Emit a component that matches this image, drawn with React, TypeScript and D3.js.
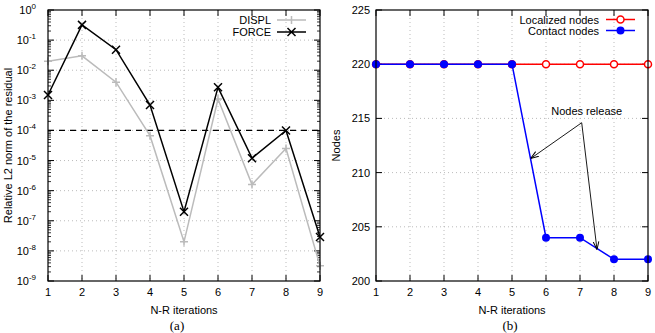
import React, { useEffect, useRef } from 'react';
import * as d3 from 'd3';

const iterations = [1, 2, 3, 4, 5, 6, 7, 8, 9];
const displ = [2e-2, 3e-2, 4e-3, 6.7e-5, 2e-8, 1.1e-3, 1.6e-6, 2.5e-5, 3.2e-9];
const force = [1.5e-3, 3.2e-1, 4.8e-2, 7e-4, 2e-7, 2.7e-3, 1.2e-5, 1e-4, 2.9e-8];
const tolerance = 1e-4;
const logExponents = [0, -1, -2, -3, -4, -5, -6, -7, -8, -9];

const localized = [220, 220, 220, 220, 220, 220, 220, 220, 220];
const contact = [220, 220, 220, 220, 220, 204, 204, 202, 202];
const nodeTicks = [200, 205, 210, 215, 220, 225];
const releaseLabel = { x: 7.05, y: 215.3, text: 'Nodes release' };
const releaseArrows = [[7.05, 214.6, 5.55, 211.3], [7.05, 214.6, 7.5, 202.9]];

const W = 655, H = 333;
const top = 10, bottom = 281;
const font = 'Liberation Sans, Arial, sans-serif';

export default function App() {
  const ref = useRef<SVGSVGElement>(null);

  useEffect(() => {
    const svg = d3.select(ref.current);
    svg.selectAll('*').remove();

    svg.append('defs').append('marker')
      .attr('id', 'arr').attr('viewBox', '0 0 10 10').attr('refX', 10).attr('refY', 5)
      .attr('markerWidth', 8).attr('markerHeight', 8).attr('orient', 'auto-start-reverse')
      .attr('markerUnits', 'userSpaceOnUse')
      .append('path').attr('d', 'M0,1.5 L10,5 L0,8.5').attr('fill', 'none').attr('stroke', '#000').attr('stroke-width', 1.2);

    // ---------- left panel ----------
    const xa = d3.scaleLinear().domain([1, 9]).range([48, 320]);
    const ya = d3.scaleLog().domain([1e-9, 1]).range([bottom, top]);
    const ga = svg.append('g');

    ga.selectAll('.gx').data(iterations.slice(1, -1)).join('line')
      .attr('x1', d => xa(d)).attr('x2', d => xa(d)).attr('y1', top).attr('y2', bottom)
      .attr('stroke', '#aaa').attr('stroke-width', 0.8).attr('stroke-dasharray', '1,3');
    ga.selectAll('.gy').data(logExponents.slice(1, -1)).join('line')
      .attr('x1', 48).attr('x2', 320).attr('y1', d => ya(Math.pow(10, d))).attr('y2', d => ya(Math.pow(10, d)))
      .attr('stroke', '#aaa').attr('stroke-width', 0.8).attr('stroke-dasharray', '1,3');

    // minor log ticks
    const minors: number[] = [];
    logExponents.slice(1).forEach(e => { for (let m = 2; m <= 9; m++) minors.push(m * Math.pow(10, e)); });
    ga.selectAll('.mn').data(minors).join('path')
      .attr('d', d => `M48,${ya(d)}h3M320,${ya(d)}h-3`).attr('stroke', '#000').attr('stroke-width', 0.8);
    ga.selectAll('.mj').data(logExponents).join('path')
      .attr('d', d => `M48,${ya(Math.pow(10, d))}h6M320,${ya(Math.pow(10, d))}h-6`).attr('stroke', '#000');
    ga.selectAll('.xt').data(iterations).join('path')
      .attr('d', d => `M${xa(d)},${bottom}v-6M${xa(d)},${top}v6`).attr('stroke', '#000');

    const yl = ga.selectAll('.yl').data(logExponents).join('text')
      .attr('x', 42).attr('y', d => ya(Math.pow(10, d)) + 4)
      .attr('text-anchor', 'end').attr('font-family', font).attr('font-size', 11);
    yl.append('tspan').attr('dx', -8).text('10');
    yl.append('tspan').attr('dy', -5).attr('font-size', 8).text(d => String(d));
    // right-align: re-place with anchor end on the whole text
    yl.attr('x', 44);

    ga.selectAll('.xl').data(iterations).join('text')
      .attr('x', d => xa(d)).attr('y', bottom + 15).attr('text-anchor', 'middle')
      .attr('font-family', font).attr('font-size', 11).text(d => d);

    ga.append('line').attr('x1', 48).attr('x2', 320).attr('y1', ya(tolerance)).attr('y2', ya(tolerance))
      .attr('stroke', '#000').attr('stroke-width', 1.2).attr('stroke-dasharray', '6,5');

    const lineA = (arr: number[]) => d3.line<number>().x((_, i) => xa(iterations[i])).y(d => ya(d))(arr);
    ga.append('path').attr('d', lineA(displ)).attr('fill', 'none').attr('stroke', '#bbb').attr('stroke-width', 1.5);
    ga.selectAll('.pd').data(displ).join('path')
      .attr('d', (d, i) => `M${xa(iterations[i]) - 4},${ya(d)}h8M${xa(iterations[i])},${ya(d) - 4}v8`)
      .attr('stroke', '#bbb').attr('stroke-width', 1.5);
    ga.append('path').attr('d', lineA(force)).attr('fill', 'none').attr('stroke', '#000').attr('stroke-width', 1.5);
    ga.selectAll('.pf').data(force).join('path')
      .attr('d', (d, i) => `M${xa(iterations[i]) - 4},${ya(d) - 4}l8,8M${xa(iterations[i]) - 4},${ya(d) + 4}l8,-8`)
      .attr('stroke', '#000').attr('stroke-width', 1.5);

    // legend
    ga.append('text').attr('x', 271).attr('y', 24).attr('text-anchor', 'end').attr('font-family', font).attr('font-size', 11).text('DISPL');
    ga.append('path').attr('d', 'M277,20h29M291.5,16v8M287.5,20h8').attr('stroke', '#bbb').attr('stroke-width', 1.5);
    ga.append('text').attr('x', 271).attr('y', 36).attr('text-anchor', 'end').attr('font-family', font).attr('font-size', 11).text('FORCE');
    ga.append('path').attr('d', 'M277,32h29M287.5,28l8,8M287.5,36l8,-8').attr('stroke', '#000').attr('stroke-width', 1.5);

    ga.append('rect').attr('x', 48).attr('y', top).attr('width', 272).attr('height', bottom - top)
      .attr('fill', 'none').attr('stroke', '#000').attr('stroke-width', 1.2);

    ga.append('text').attr('transform', `translate(12,${(top + bottom) / 2}) rotate(-90)`)
      .attr('text-anchor', 'middle').attr('font-family', font).attr('font-size', 11).text('Relative L2 norm of the residual');
    ga.append('text').attr('x', 184).attr('y', 314).attr('text-anchor', 'middle').attr('font-family', font).attr('font-size', 11).text('N-R iterations');
    ga.append('text').attr('x', 177).attr('y', 330).attr('text-anchor', 'middle').attr('font-family', 'Liberation Serif, Times New Roman, serif').attr('font-size', 13).text('(a)');

    // ---------- right panel ----------
    const xb = d3.scaleLinear().domain([1, 9]).range([376, 648]);
    const yb = d3.scaleLinear().domain([200, 225]).range([bottom, top]);
    const gb = svg.append('g');

    gb.selectAll('.gx').data(iterations.slice(1, -1)).join('line')
      .attr('x1', d => xb(d)).attr('x2', d => xb(d)).attr('y1', top).attr('y2', bottom)
      .attr('stroke', '#aaa').attr('stroke-width', 0.8).attr('stroke-dasharray', '1,3');
    gb.selectAll('.gy').data(nodeTicks.slice(1, -1)).join('line')
      .attr('x1', 376).attr('x2', 648).attr('y1', d => yb(d)).attr('y2', d => yb(d))
      .attr('stroke', '#aaa').attr('stroke-width', 0.8).attr('stroke-dasharray', '1,3');
    gb.selectAll('.mj').data(nodeTicks).join('path')
      .attr('d', d => `M376,${yb(d)}h6M648,${yb(d)}h-6`).attr('stroke', '#000');
    gb.selectAll('.xt').data(iterations).join('path')
      .attr('d', d => `M${xb(d)},${bottom}v-6M${xb(d)},${top}v6`).attr('stroke', '#000');

    gb.selectAll('.yl').data(nodeTicks).join('text')
      .attr('x', 370).attr('y', d => yb(d) + 4).attr('text-anchor', 'end')
      .attr('font-family', font).attr('font-size', 11).text(d => d);
    gb.selectAll('.xl').data(iterations).join('text')
      .attr('x', d => xb(d)).attr('y', bottom + 15).attr('text-anchor', 'middle')
      .attr('font-family', font).attr('font-size', 11).text(d => d);

    const lineB = (arr: number[]) => d3.line<number>().x((_, i) => xb(iterations[i])).y(d => yb(d))(arr);
    gb.append('path').attr('d', lineB(localized)).attr('fill', 'none').attr('stroke', '#f00').attr('stroke-width', 1.5);
    gb.selectAll('.pl').data(localized).join('circle')
      .attr('cx', (_, i) => xb(iterations[i])).attr('cy', d => yb(d)).attr('r', 3.5)
      .attr('fill', '#fff').attr('stroke', '#f00').attr('stroke-width', 1.5);
    gb.append('path').attr('d', lineB(contact)).attr('fill', 'none').attr('stroke', '#00f').attr('stroke-width', 1.5);
    gb.selectAll('.pc').data(contact).join('circle')
      .attr('cx', (_, i) => xb(iterations[i])).attr('cy', d => yb(d)).attr('r', 4)
      .attr('fill', '#00f');

    // annotation
    gb.append('text').attr('x', xb(releaseLabel.x) + 5).attr('y', yb(releaseLabel.y))
      .attr('text-anchor', 'middle').attr('font-family', font).attr('font-size', 11).text(releaseLabel.text);
    gb.selectAll('.ar').data(releaseArrows).join('line')
      .attr('x1', d => xb(d[0])).attr('y1', d => yb(d[1])).attr('x2', d => xb(d[2])).attr('y2', d => yb(d[3]))
      .attr('stroke', '#000').attr('stroke-width', 0.9).attr('marker-end', 'url(#arr)');

    // legend
    gb.append('text').attr('x', 599).attr('y', 24).attr('text-anchor', 'end').attr('font-family', font).attr('font-size', 11).text('Localized nodes');
    gb.append('line').attr('x1', 606).attr('x2', 635).attr('y1', 19.5).attr('y2', 19.5).attr('stroke', '#f00').attr('stroke-width', 1.5);
    gb.append('circle').attr('cx', 620.5).attr('cy', 19.5).attr('r', 3.5).attr('fill', '#fff').attr('stroke', '#f00').attr('stroke-width', 1.5);
    gb.append('text').attr('x', 599).attr('y', 35).attr('text-anchor', 'end').attr('font-family', font).attr('font-size', 11).text('Contact nodes');
    gb.append('line').attr('x1', 606).attr('x2', 635).attr('y1', 30.5).attr('y2', 30.5).attr('stroke', '#00f').attr('stroke-width', 1.5);
    gb.append('circle').attr('cx', 620.5).attr('cy', 30.5).attr('r', 4).attr('fill', '#00f');

    gb.append('rect').attr('x', 376).attr('y', top).attr('width', 272).attr('height', bottom - top)
      .attr('fill', 'none').attr('stroke', '#000').attr('stroke-width', 1.2);

    gb.append('text').attr('transform', `translate(340,${(top + bottom) / 2}) rotate(-90)`)
      .attr('text-anchor', 'middle').attr('font-family', font).attr('font-size', 11).text('Nodes');
    gb.append('text').attr('x', 512).attr('y', 314).attr('text-anchor', 'middle').attr('font-family', font).attr('font-size', 11).text('N-R iterations');
    gb.append('text').attr('x', 510).attr('y', 330).attr('text-anchor', 'middle').attr('font-family', 'Liberation Serif, Times New Roman, serif').attr('font-size', 13).text('(b)');
  }, []);

  return (
    <svg ref={ref} width={W} height={H} style={{ position: 'absolute', left: 0, top: 0, background: '#fff' }} />
  );
}
